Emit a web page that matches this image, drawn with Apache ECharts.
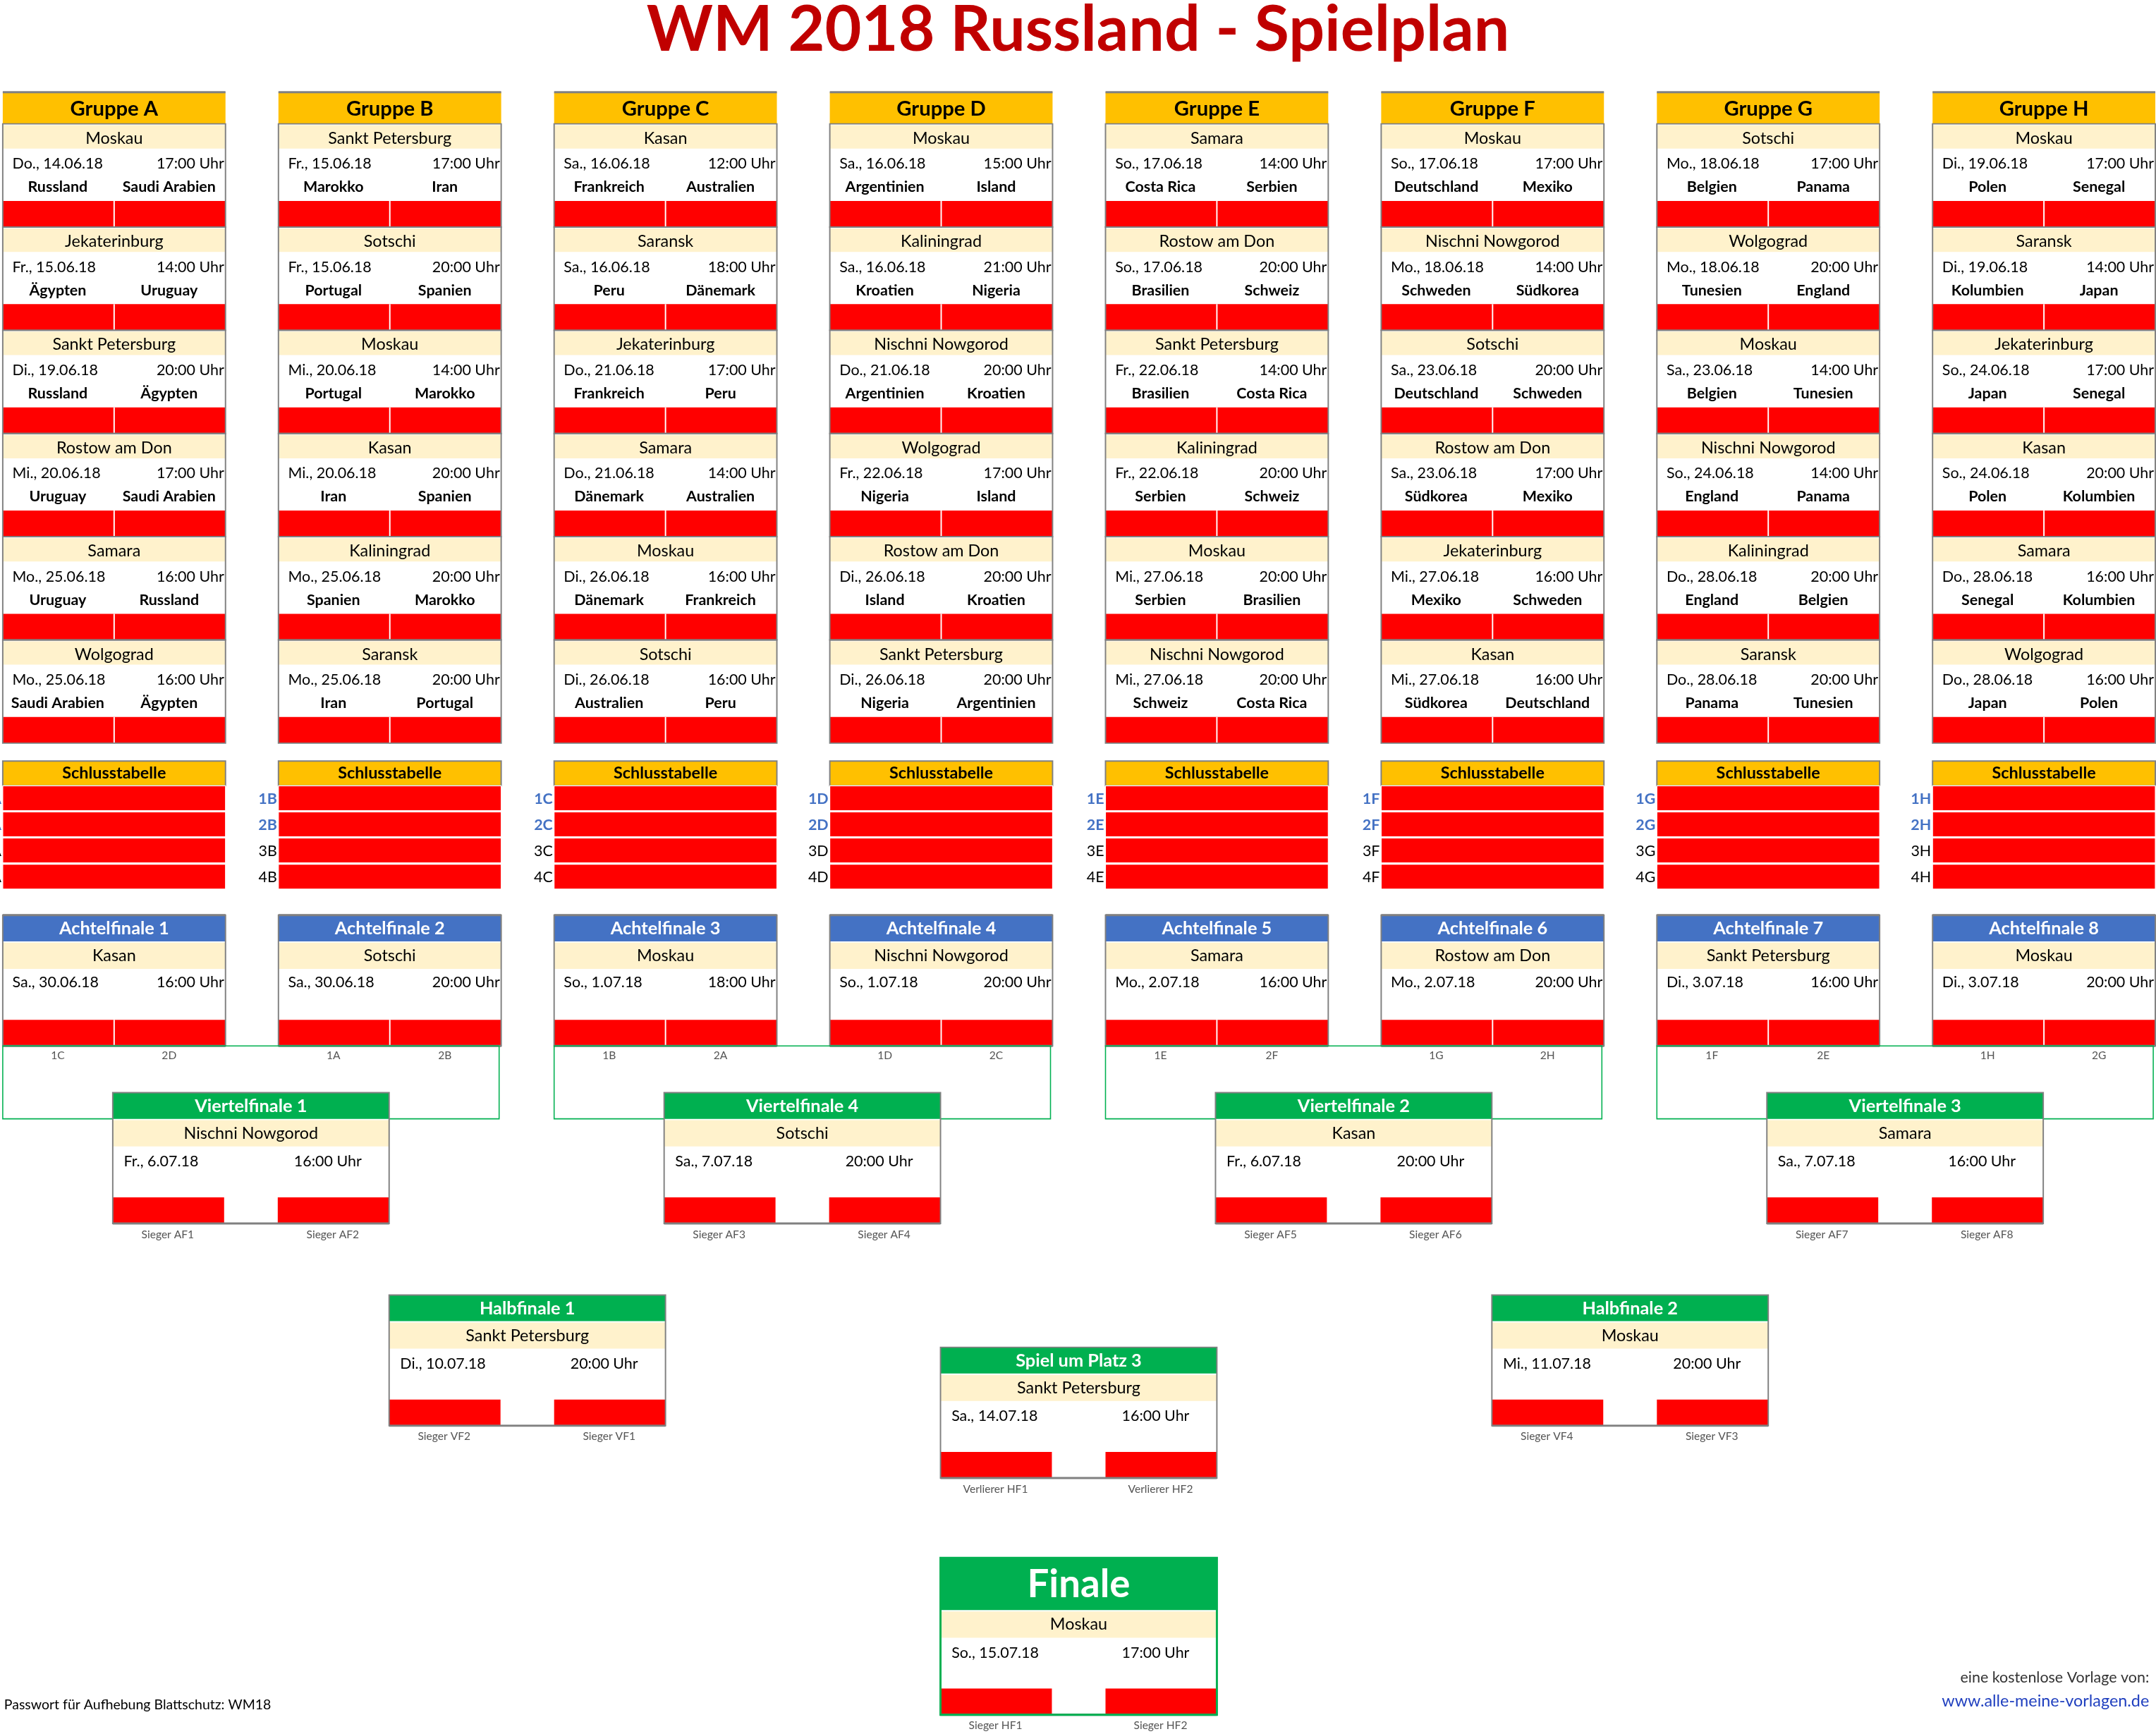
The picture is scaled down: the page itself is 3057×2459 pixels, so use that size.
<!DOCTYPE html>
<html><head><meta charset="utf-8">
<script src="https://cdn.jsdelivr.net/npm/echarts@6/dist/echarts.min.js"></script>
<style>html,body{margin:0;padding:0;background:#fff}#c{width:3057px;height:2459px}</style>
</head><body><div id="c"></div>
<script>
const groupNames = ['Gruppe A','Gruppe B','Gruppe C','Gruppe D','Gruppe E','Gruppe F','Gruppe G','Gruppe H'];
const groupLetters = ['A','B','C','D','E','F','G','H'];
const groupCities = [
 ['Moskau','Jekaterinburg','Sankt Petersburg','Rostow am Don','Samara','Wolgograd'],
 ['Sankt Petersburg','Sotschi','Moskau','Kasan','Kaliningrad','Saransk'],
 ['Kasan','Saransk','Jekaterinburg','Samara','Moskau','Sotschi'],
 ['Moskau','Kaliningrad','Nischni Nowgorod','Wolgograd','Rostow am Don','Sankt Petersburg'],
 ['Samara','Rostow am Don','Sankt Petersburg','Kaliningrad','Moskau','Nischni Nowgorod'],
 ['Moskau','Nischni Nowgorod','Sotschi','Rostow am Don','Jekaterinburg','Kasan'],
 ['Sotschi','Wolgograd','Moskau','Nischni Nowgorod','Kaliningrad','Saransk'],
 ['Moskau','Saransk','Jekaterinburg','Kasan','Samara','Wolgograd']];
const groupDates = [
 ['Do., 14.06.18','Fr., 15.06.18','Di., 19.06.18','Mi., 20.06.18','Mo., 25.06.18','Mo., 25.06.18'],
 ['Fr., 15.06.18','Fr., 15.06.18','Mi., 20.06.18','Mi., 20.06.18','Mo., 25.06.18','Mo., 25.06.18'],
 ['Sa., 16.06.18','Sa., 16.06.18','Do., 21.06.18','Do., 21.06.18','Di., 26.06.18','Di., 26.06.18'],
 ['Sa., 16.06.18','Sa., 16.06.18','Do., 21.06.18','Fr., 22.06.18','Di., 26.06.18','Di., 26.06.18'],
 ['So., 17.06.18','So., 17.06.18','Fr., 22.06.18','Fr., 22.06.18','Mi., 27.06.18','Mi., 27.06.18'],
 ['So., 17.06.18','Mo., 18.06.18','Sa., 23.06.18','Sa., 23.06.18','Mi., 27.06.18','Mi., 27.06.18'],
 ['Mo., 18.06.18','Mo., 18.06.18','Sa., 23.06.18','So., 24.06.18','Do., 28.06.18','Do., 28.06.18'],
 ['Di., 19.06.18','Di., 19.06.18','So., 24.06.18','So., 24.06.18','Do., 28.06.18','Do., 28.06.18']];
const groupTimes = [
 ['17:00','14:00','20:00','17:00','16:00','16:00'],
 ['17:00','20:00','14:00','20:00','20:00','20:00'],
 ['12:00','18:00','17:00','14:00','16:00','16:00'],
 ['15:00','21:00','20:00','17:00','20:00','20:00'],
 ['14:00','20:00','14:00','20:00','20:00','20:00'],
 ['17:00','14:00','20:00','17:00','16:00','16:00'],
 ['17:00','20:00','14:00','14:00','20:00','20:00'],
 ['17:00','14:00','17:00','20:00','16:00','16:00']];
const groupHome = [
 ['Russland','Ägypten','Russland','Uruguay','Uruguay','Saudi Arabien'],
 ['Marokko','Portugal','Portugal','Iran','Spanien','Iran'],
 ['Frankreich','Peru','Frankreich','Dänemark','Dänemark','Australien'],
 ['Argentinien','Kroatien','Argentinien','Nigeria','Island','Nigeria'],
 ['Costa Rica','Brasilien','Brasilien','Serbien','Serbien','Schweiz'],
 ['Deutschland','Schweden','Deutschland','Südkorea','Mexiko','Südkorea'],
 ['Belgien','Tunesien','Belgien','England','England','Panama'],
 ['Polen','Kolumbien','Japan','Polen','Senegal','Japan']];
const groupAway = [
 ['Saudi Arabien','Uruguay','Ägypten','Saudi Arabien','Russland','Ägypten'],
 ['Iran','Spanien','Marokko','Spanien','Marokko','Portugal'],
 ['Australien','Dänemark','Peru','Australien','Frankreich','Peru'],
 ['Island','Nigeria','Kroatien','Island','Kroatien','Argentinien'],
 ['Serbien','Schweiz','Costa Rica','Schweiz','Brasilien','Costa Rica'],
 ['Mexiko','Südkorea','Schweden','Mexiko','Schweden','Deutschland'],
 ['Panama','England','Tunesien','Panama','Belgien','Tunesien'],
 ['Senegal','Japan','Senegal','Kolumbien','Kolumbien','Polen']];
const afNames = ['Achtelfinale 1','Achtelfinale 2','Achtelfinale 3','Achtelfinale 4','Achtelfinale 5','Achtelfinale 6','Achtelfinale 7','Achtelfinale 8'];
const afCities = ['Kasan','Sotschi','Moskau','Nischni Nowgorod','Samara','Rostow am Don','Sankt Petersburg','Moskau'];
const afDates = ['Sa., 30.06.18','Sa., 30.06.18','So., 1.07.18','So., 1.07.18','Mo., 2.07.18','Mo., 2.07.18','Di., 3.07.18','Di., 3.07.18'];
const afTimes = ['16:00 Uhr','20:00 Uhr','18:00 Uhr','20:00 Uhr','16:00 Uhr','20:00 Uhr','16:00 Uhr','20:00 Uhr'];
const afSlots = [['1C','2D'],['1A','2B'],['1B','2A'],['1D','2C'],['1E','2F'],['1G','2H'],['1F','2E'],['1H','2G']];
const vfNames = ['Viertelfinale 1','Viertelfinale 4','Viertelfinale 2','Viertelfinale 3'];
const vfCities = ['Nischni Nowgorod','Sotschi','Kasan','Samara'];
const vfDates = ['Fr., 6.07.18','Sa., 7.07.18','Fr., 6.07.18','Sa., 7.07.18'];
const vfTimes = ['16:00 Uhr','20:00 Uhr','20:00 Uhr','16:00 Uhr'];
const vfSlots = [['Sieger AF1','Sieger AF2'],['Sieger AF3','Sieger AF4'],['Sieger AF5','Sieger AF6'],['Sieger AF7','Sieger AF8']];
const finNames = ['Halbfinale 1','Halbfinale 2','Spiel um Platz 3','Finale'];
const finCities = ['Sankt Petersburg','Moskau','Sankt Petersburg','Moskau'];
const finDates = ['Di., 10.07.18','Mi., 11.07.18','Sa., 14.07.18','So., 15.07.18'];
const finTimes = ['20:00 Uhr','20:00 Uhr','16:00 Uhr','17:00 Uhr'];
const finSlots = [['Sieger VF2','Sieger VF1'],['Sieger VF4','Sieger VF3'],['Verlierer HF1','Verlierer HF2'],['Sieger HF1','Sieger HF2']];
const titleText = 'WM 2018 Russland - Spielplan';

const FONT = 'Lato, "Liberation Sans", sans-serif';
const GOLD='#FFC000', CREAM='#FFF2CC', RED='#FF0000', BLUE='#4472C4', GREEN='#00B050', GRAY='#808080';
const chart = echarts.init(document.getElementById('c'));

function renderAll(params, api){
  const k = api.size([1,0])[0];
  const kids = [];
  const P = (x,y)=>api.coord([x,y]);
  function rect(x,y,w,h,fill,stroke,lw){
    const a=P(x,y), b=P(x+w,y+h);
    kids.push({type:'rect',shape:{x:a[0],y:a[1],width:b[0]-a[0],height:b[1]-a[1]},
      style:{fill:fill||'none',stroke:stroke||null,lineWidth:(lw||1)*k}});
  }
  function line(x1,y1,x2,y2,col,lw){
    const a=P(x1,y1),b=P(x2,y2);
    kids.push({type:'line',shape:{x1:a[0],y1:a[1],x2:b[0],y2:b[1]},style:{stroke:col,lineWidth:(lw||1)*k}});
  }
  function text(x,y,s,size,opt){
    opt=opt||{};
    const a=P(x,y);
    kids.push({type:'text',x:a[0],y:a[1],style:{text:s,fontSize:size*k,fontFamily:FONT,
      fontWeight:opt.bold?'bold':'normal',fill:opt.color||'#000',align:opt.align||'center',verticalAlign:'middle',
      textDecoration:opt.underline?'underline':'none'}});
  }
  // title
  text(784,22,titleText,46,{bold:true,color:'#C00000'});
  const colX = i=>2+i*200.5;
  const W=162;
  for(let g=0;g<8;g++){
    const x0=colX(g);
    rect(x0,67,W,23,GOLD);
    line(x0,67,x0+W,67,GRAY,1.5);
    text(x0+W/2,79,groupNames[g],15,{bold:true});
    for(let m=0;m<6;m++){
      const y0=91+m*75;
      rect(x0,y0,W,17,CREAM);
      text(x0+W/2,y0+9.5,groupCities[g][m],12);
      text(x0+7,y0+28,groupDates[g][m],11,{align:'left'});
      text(x0+W-1,y0+28,groupTimes[g][m]+' Uhr',11,{align:'right'});
      text(x0+40,y0+45,groupHome[g][m],11,{bold:true});
      text(x0+121,y0+45,groupAway[g][m],11,{bold:true});
      rect(x0,y0+55,W,19,RED);
      line(x0+81,y0+55,x0+81,y0+74,'#fff',1);
      rect(x0,y0-1,W,75,null,GRAY,1);
    }
    // Schlusstabelle
    rect(x0,553,W,18,GOLD,GRAY,1);
    text(x0+W/2,562,'Schlusstabelle',12,{bold:true});
    for(let r=0;r<4;r++){
      rect(x0,571+r*19,W,18,RED,'#fff',0.6);
      const blue=r<2;
      text(x0-1,580.5+r*19,(r+1)+groupLetters[g],11,{align:'right',bold:blue,color:blue?BLUE:'#000'});
    }
    // Achtelfinale
    rect(x0,665,W,19,BLUE);
    line(x0,665,x0+W,665,GRAY,1.5);
    text(x0+W/2,674.5,afNames[g],13,{bold:true,color:'#fff'});
    rect(x0,685,W,19,CREAM);
    text(x0+W/2,694.5,afCities[g],12);
    text(x0+7,714,afDates[g],11,{align:'left'});
    text(x0+W-1,714,afTimes[g],11,{align:'right'});
    rect(x0,741,W,19,RED);
    line(x0+81,741,x0+81,760,'#fff',1);
    rect(x0,665,W,95,null,GRAY,1);
    line(x0,760,x0+W,760,GRAY,1.5);
    text(x0+40,767,afSlots[g][0],8,{color:'#555'});
    text(x0+121,767,afSlots[g][1],8,{color:'#555'});
  }
  // brackets & VF
  for(let v=0;v<4;v++){
    const bx=colX(2*v);
    rect(bx,760,361,53,null,GREEN,0.8);
    const x0=bx+80, w=201;
    rect(x0,794,w,95,'#fff');
    box(x0,794,w,vfNames[v],vfCities[v],vfDates[v],vfTimes[v],vfSlots[v],GREEN,19,13);
  }
  box(283,941,201,finNames[0],finCities[0],finDates[0],finTimes[0],finSlots[0],GREEN,19,13);
  box(1085,941,201,finNames[1],finCities[1],finDates[1],finTimes[1],finSlots[1],GREEN,19,13);
  box(684,979,201,finNames[2],finCities[2],finDates[2],finTimes[2],finSlots[2],GREEN,19,13);
  box(684,1132,201,finNames[3],finCities[3],finDates[3],finTimes[3],finSlots[3],GREEN,38,28);
  function box(x0,y0,w,name,city,date,time,slots,hc,hh,hs){
    rect(x0,y0,w,hh,hc);
    text(x0+w/2,y0+hh/2+0.5,name,hs,{bold:true,color:'#fff'});
    const cy=y0+hh+1;
    rect(x0,cy,w,19,CREAM);
    text(x0+w/2,cy+9.5,city,12);
    text(x0+8,cy+30,date,11,{align:'left'});
    text(x0+w-20,cy+30,time,11,{align:'right'});
    const ry=cy+56;
    rect(x0,ry,81,19,RED);
    rect(x0+120,ry,81,19,RED);
    rect(x0,y0,w,ry+19-y0,null,GRAY,1);
    line(x0,ry+19,x0+w,ry+19,GRAY,1.5);
    if(hc===GREEN && hh>30) rect(x0,y0,w,ry+19-y0,null,GREEN,1.5);
    text(x0+40,ry+27,slots[0],8,{color:'#555'});
    text(x0+160,ry+27,slots[1],8,{color:'#555'});
  }
  text(3,1239,'Passwort für Aufhebung Blattschutz: WM18',10,{align:'left'});
  text(1563,1219,'eine kostenlose Vorlage von:',11,{align:'right',color:'#333'});
  text(1563,1236,'www.alle-meine-vorlagen.de',12,{align:'right',color:'#1F3FBF',underline:true});
  return {type:'group',children:kids};
}

chart.setOption({
  animation:false,
  grid:{left:0,right:0,top:0,bottom:0},
  xAxis:{type:'value',min:0,max:1568,show:false},
  yAxis:{type:'value',min:0,max:1260,inverse:true,show:false},
  series:[{type:'custom',coordinateSystem:'cartesian2d',data:[[0,0]],renderItem:renderAll,silent:true}]
});
</script></body></html>
